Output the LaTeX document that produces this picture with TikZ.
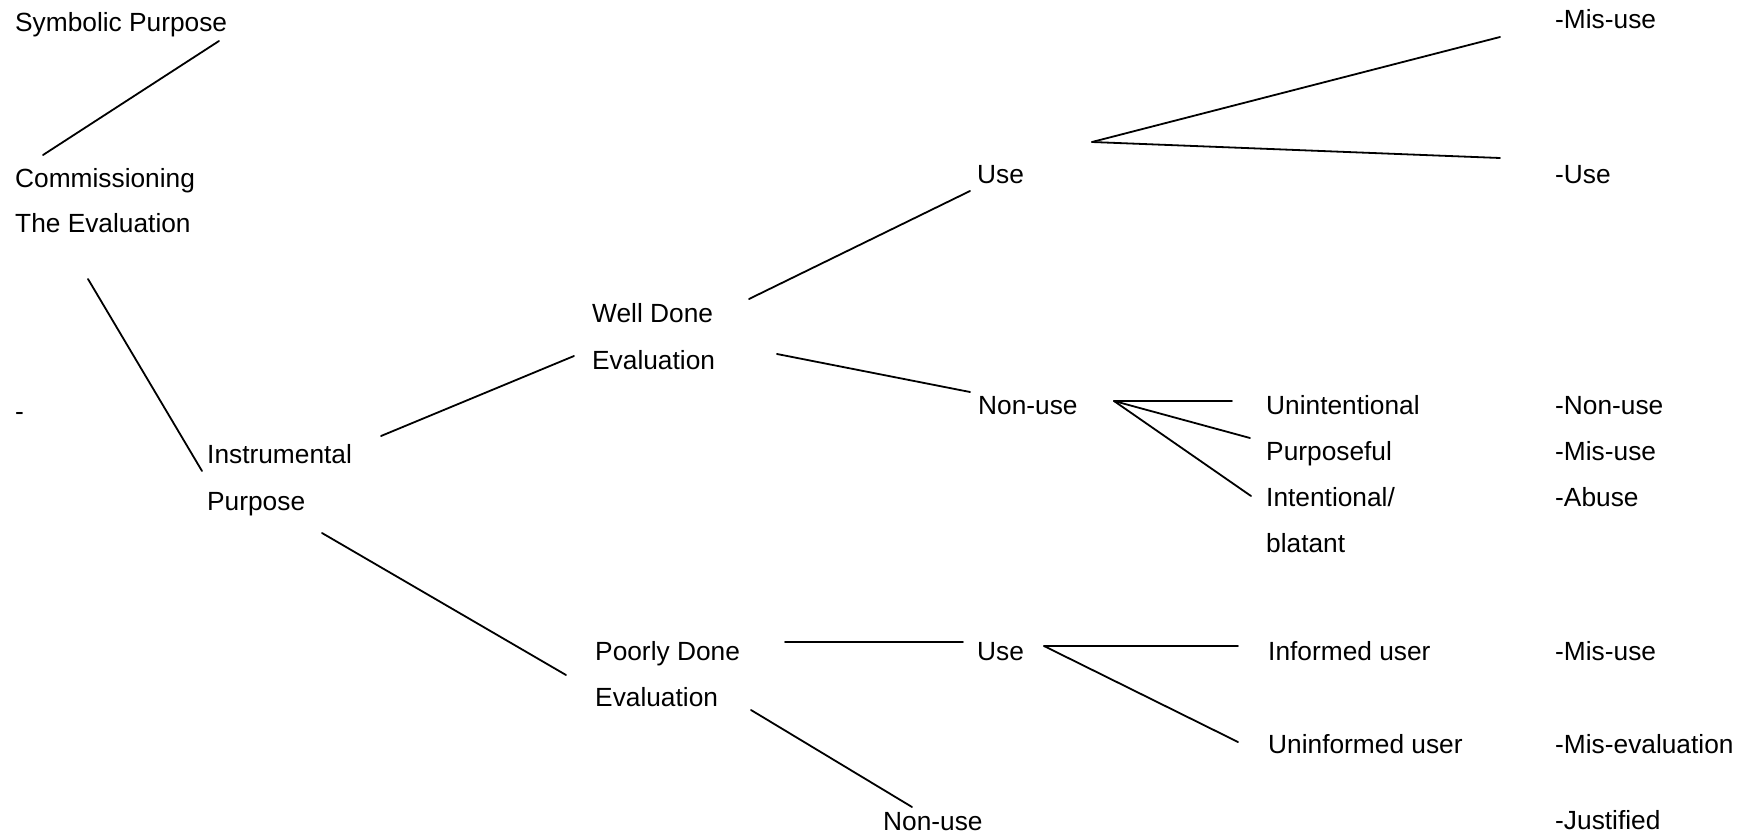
\documentclass[tikz,border=0pt]{standalone}
\usepackage{fontspec}
\setmainfont{Liberation Sans}
\begin{document}
\begin{tikzpicture}[x=1pt,y=-1pt,
  lbl/.style={anchor=base west, inner sep=0pt, font=\fontsize{26.3}{30}\selectfont},
  conn/.style={line width=1.8pt, line cap=round}]
\useasboundingbox[fill=white] (0,0) rectangle (1745,835);
% labels
\node[lbl] (sym) at (15,31) {Symbolic Purpose};
\node[lbl] (com1) at (15,187) {Commissioning};
\node[lbl] (com2) at (15,232) {The Evaluation};
\node[lbl] (dash) at (15,420) {-};
\node[lbl] (ins1) at (207,463) {Instrumental};
\node[lbl] (ins2) at (207,510) {Purpose};
\node[lbl] (wd1) at (592,322) {Well Done};
\node[lbl] (wd2) at (592,369) {Evaluation};
\node[lbl] (useA) at (977,183) {Use};
\node[lbl] (nonA) at (978,414) {Non-use};
\node[lbl] (rMisA) at (1555,28) {-Mis-use};
\node[lbl] (rUse) at (1555,183) {-Use};
\node[lbl] (uni) at (1266,414) {Unintentional};
\node[lbl] (pur) at (1266,460) {Purposeful};
\node[lbl] (int1) at (1266,506) {Intentional/};
\node[lbl] (int2) at (1266,552) {blatant};
\node[lbl] (rNon) at (1555,414) {-Non-use};
\node[lbl] (rMisB) at (1555,460) {-Mis-use};
\node[lbl] (rAbuse) at (1555,506) {-Abuse};
\node[lbl] (pd1) at (595,660) {Poorly Done};
\node[lbl] (pd2) at (595,706) {Evaluation};
\node[lbl] (useB) at (977,660) {Use};
\node[lbl] (nonB) at (883,830) {Non-use};
\node[lbl] (inf) at (1268,660) {Informed user};
\node[lbl] (uninf) at (1268,753) {Uninformed user};
\node[lbl] (rMisC) at (1555,660) {-Mis-use};
\node[lbl] (rMisEval) at (1555,753) {-Mis-evaluation};
\node[lbl] (rJust) at (1555,829) {-Justified};
% connector end points
\coordinate (symE) at (219,41);
\coordinate (comN) at (43,155);
\coordinate (comS) at (88,279);
\coordinate (insN) at (202,471);
\coordinate (insE) at (381,436);
\coordinate (wdW) at (574,356);
\coordinate (wdNE) at (749,299);
\coordinate (useAW) at (970,191);
\coordinate (useAfan) at (1092,142);
\coordinate (misAend) at (1500,37);
\coordinate (useEnd) at (1500,158);
\coordinate (wdSE) at (777,354);
\coordinate (nonAW) at (970,392);
\coordinate (nonAfan) at (1114,401);
\coordinate (uniEnd) at (1232,401);
\coordinate (purEnd) at (1250,438);
\coordinate (intEnd) at (1251,496);
\coordinate (insSE) at (322,533);
\coordinate (pdW) at (566,675);
\coordinate (pdE) at (785,642);
\coordinate (useBW) at (963,642);
\coordinate (pdSE) at (751,710);
\coordinate (nonBN) at (912,807);
\coordinate (useBfan) at (1044,646);
\coordinate (infEnd) at (1238,646);
\coordinate (uninfEnd) at (1238,742);
% connectors
\draw[conn] (symE) -- (comN);
\draw[conn] (comS) -- (insN);
\draw[conn] (insE) -- (wdW);
\draw[conn] (wdNE) -- (useAW);
\draw[conn] (useAfan) -- (misAend);
\draw[conn] (useAfan) -- (useEnd);
\draw[conn] (wdSE) -- (nonAW);
\draw[conn] (nonAfan) -- (uniEnd);
\draw[conn] (nonAfan) -- (purEnd);
\draw[conn] (nonAfan) -- (intEnd);
\draw[conn] (insSE) -- (pdW);
\draw[conn] (pdE) -- (useBW);
\draw[conn] (pdSE) -- (nonBN);
\draw[conn] (useBfan) -- (infEnd);
\draw[conn] (useBfan) -- (uninfEnd);
\end{tikzpicture}
\end{document}
